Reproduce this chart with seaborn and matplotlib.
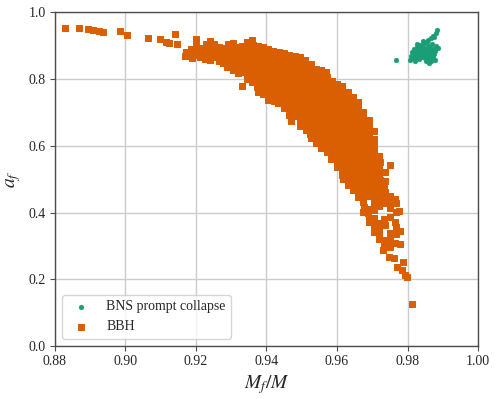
import matplotlib
matplotlib.use("Agg")
import matplotlib.pyplot as plt
import pandas as pd
import seaborn as sns

# --- data (M_f/M, a_f) ---
bns_points = [
    (0.9767, 0.857),
    (0.9884, 0.946), (0.9880, 0.938), (0.9872, 0.930), (0.9866, 0.924), (0.9858, 0.918), (0.9876, 0.926),
    (0.9880, 0.900), (0.9886, 0.892), (0.9878, 0.884),
    (0.9810, 0.870), (0.9812, 0.880), (0.9815, 0.862), (0.9818, 0.890), (0.9820, 0.875), (0.9823, 0.866),
    (0.9826, 0.897), (0.9828, 0.884), (0.9830, 0.872), (0.9832, 0.860), (0.9835, 0.890), (0.9836, 0.903),
    (0.9838, 0.878), (0.9840, 0.867), (0.9842, 0.885), (0.9845, 0.895), (0.9846, 0.873), (0.9848, 0.908),
    (0.9850, 0.862), (0.9851, 0.882), (0.9853, 0.890), (0.9855, 0.870), (0.9857, 0.900), (0.9858, 0.878),
    (0.9860, 0.886), (0.9862, 0.862), (0.9863, 0.894), (0.9865, 0.874), (0.9866, 0.853), (0.9868, 0.882),
    (0.9870, 0.905), (0.9871, 0.866), (0.9873, 0.890), (0.9875, 0.876), (0.9856, 0.912), (0.9843, 0.913),
    (0.9828, 0.905), (0.9808, 0.858), (0.9822, 0.854), (0.9860, 0.848), (0.9877, 0.858), (0.9853, 0.855),
]

# sparse high-spin tail
bbh_tail = [
    (0.8828, 0.952), (0.8868, 0.952), (0.8893, 0.949), (0.8909, 0.947), (0.8925, 0.945), (0.8938, 0.942),
    (0.8985, 0.945), (0.9005, 0.933), (0.9063, 0.922), (0.9097, 0.921), (0.9114, 0.911), (0.9124, 0.909),
    (0.9140, 0.934), (0.9147, 0.905),
]

bbh_upper = [
    (0.9172, 0.882), (0.9170, 0.869),
    (0.9187, 0.891), (0.9186, 0.877), (0.9188, 0.864),
    (0.9200, 0.920), (0.9201, 0.900), (0.9199, 0.886), (0.9202, 0.872),
    (0.9214, 0.893), (0.9215, 0.879), (0.9213, 0.866),
    (0.9228, 0.905), (0.9227, 0.890), (0.9229, 0.876), (0.9227, 0.861),
    (0.9240, 0.915), (0.9241, 0.902), (0.9239, 0.887), (0.9241, 0.873), (0.9240, 0.858),
    (0.9252, 0.906), (0.9251, 0.893), (0.9253, 0.880), (0.9251, 0.866),
    (0.9265, 0.897), (0.9266, 0.884), (0.9264, 0.870), (0.9265, 0.855),
    (0.9278, 0.892), (0.9277, 0.878), (0.9279, 0.862), (0.9277, 0.848),
    (0.9290, 0.905), (0.9291, 0.890), (0.9289, 0.876), (0.9290, 0.862), (0.9291, 0.848), (0.9289, 0.836),
    (0.9304, 0.908), (0.9303, 0.894), (0.9305, 0.880), (0.9304, 0.866), (0.9305, 0.852), (0.9303, 0.838),
    (0.9304, 0.826),
    (0.9318, 0.897), (0.9317, 0.884), (0.9319, 0.870), (0.9318, 0.856), (0.9319, 0.842), (0.9317, 0.829),
    (0.9318, 0.817),
    (0.9331, 0.900), (0.9332, 0.888), (0.9330, 0.874), (0.9331, 0.860), (0.9330, 0.846), (0.9332, 0.832),
    (0.9331, 0.820), (0.9330, 0.778),
    (0.9345, 0.910), (0.9344, 0.896), (0.9346, 0.882), (0.9345, 0.868), (0.9346, 0.854), (0.9344, 0.840),
    (0.9345, 0.826), (0.9344, 0.812), (0.9346, 0.800),
    (0.9360, 0.918), (0.9361, 0.903), (0.9359, 0.889), (0.9360, 0.875), (0.9359, 0.861), (0.9361, 0.847),
    (0.9360, 0.833), (0.9361, 0.819), (0.9359, 0.805), (0.9360, 0.791),
    (0.9375, 0.900), (0.9374, 0.886), (0.9376, 0.872), (0.9375, 0.858), (0.9376, 0.844), (0.9374, 0.830),
    (0.9375, 0.816), (0.9374, 0.802), (0.9376, 0.788), (0.9374, 0.775), (0.9375, 0.761),
]

bbh_middle = [
    (0.9390, 0.895), (0.9391, 0.881), (0.9389, 0.867), (0.9390, 0.853), (0.9389, 0.839), (0.9391, 0.825),
    (0.9390, 0.811), (0.9391, 0.797), (0.9389, 0.783), (0.9390, 0.769), (0.9390, 0.755),
    (0.9405, 0.889), (0.9404, 0.875), (0.9406, 0.861), (0.9405, 0.847), (0.9406, 0.833), (0.9404, 0.819),
    (0.9405, 0.805), (0.9404, 0.791), (0.9406, 0.777), (0.9404, 0.763), (0.9405, 0.750), (0.9404, 0.738),
    (0.9420, 0.885), (0.9421, 0.871), (0.9419, 0.857), (0.9420, 0.843), (0.9419, 0.829), (0.9421, 0.815),
    (0.9420, 0.801), (0.9421, 0.787), (0.9419, 0.773), (0.9420, 0.759), (0.9419, 0.745), (0.9421, 0.733),
    (0.9435, 0.880), (0.9434, 0.866), (0.9436, 0.852), (0.9435, 0.838), (0.9436, 0.824), (0.9434, 0.810),
    (0.9435, 0.796), (0.9434, 0.782), (0.9436, 0.768), (0.9434, 0.754), (0.9435, 0.740), (0.9434, 0.727),
    (0.9450, 0.878), (0.9451, 0.864), (0.9449, 0.850), (0.9450, 0.836), (0.9449, 0.822), (0.9451, 0.808),
    (0.9450, 0.794), (0.9451, 0.780), (0.9449, 0.766), (0.9450, 0.752), (0.9449, 0.738), (0.9451, 0.724),
    (0.9450, 0.712),
    (0.9465, 0.873), (0.9464, 0.859), (0.9466, 0.845), (0.9465, 0.831), (0.9466, 0.817), (0.9464, 0.803),
    (0.9465, 0.789), (0.9464, 0.775), (0.9466, 0.761), (0.9464, 0.747), (0.9465, 0.733), (0.9464, 0.719),
    (0.9466, 0.705), (0.9464, 0.692), (0.9470, 0.673),
    (0.9480, 0.870), (0.9481, 0.856), (0.9479, 0.842), (0.9480, 0.828), (0.9479, 0.814), (0.9481, 0.800),
    (0.9480, 0.786), (0.9481, 0.772), (0.9479, 0.758), (0.9480, 0.744), (0.9479, 0.730), (0.9481, 0.716),
    (0.9480, 0.702), (0.9481, 0.688),
    (0.9495, 0.866), (0.9494, 0.852), (0.9496, 0.838), (0.9495, 0.824), (0.9496, 0.810), (0.9494, 0.796),
    (0.9495, 0.782), (0.9494, 0.768), (0.9496, 0.754), (0.9494, 0.740), (0.9495, 0.726), (0.9494, 0.712),
    (0.9496, 0.698), (0.9494, 0.684), (0.9495, 0.670), (0.9494, 0.658),
    (0.9510, 0.858), (0.9511, 0.844), (0.9509, 0.830), (0.9510, 0.816), (0.9509, 0.802), (0.9511, 0.788),
    (0.9510, 0.774), (0.9511, 0.760), (0.9509, 0.746), (0.9510, 0.732), (0.9509, 0.718), (0.9511, 0.704),
    (0.9510, 0.690), (0.9511, 0.676), (0.9509, 0.662), (0.9511, 0.648),
    (0.9525, 0.845), (0.9524, 0.831), (0.9526, 0.817), (0.9525, 0.803), (0.9526, 0.789), (0.9524, 0.775),
    (0.9525, 0.761), (0.9524, 0.747), (0.9526, 0.733), (0.9524, 0.719), (0.9525, 0.705), (0.9524, 0.691),
    (0.9526, 0.677), (0.9524, 0.663), (0.9525, 0.649), (0.9524, 0.635), (0.9526, 0.623),
    (0.9540, 0.830), (0.9541, 0.816), (0.9539, 0.802), (0.9540, 0.788), (0.9539, 0.774), (0.9541, 0.760),
    (0.9540, 0.746), (0.9541, 0.732), (0.9539, 0.718), (0.9540, 0.704), (0.9539, 0.690), (0.9541, 0.676),
    (0.9540, 0.662), (0.9541, 0.648), (0.9539, 0.634), (0.9541, 0.620), (0.9540, 0.608),
    (0.9555, 0.826), (0.9554, 0.812), (0.9556, 0.798), (0.9555, 0.784), (0.9556, 0.770), (0.9554, 0.756),
    (0.9555, 0.742), (0.9554, 0.728), (0.9556, 0.714), (0.9554, 0.700), (0.9555, 0.686), (0.9554, 0.672),
    (0.9556, 0.658), (0.9554, 0.644), (0.9555, 0.630), (0.9554, 0.616), (0.9556, 0.602), (0.9554, 0.592),
    (0.9570, 0.820), (0.9571, 0.806), (0.9569, 0.792), (0.9570, 0.778), (0.9569, 0.764), (0.9571, 0.750),
    (0.9570, 0.736), (0.9571, 0.722), (0.9569, 0.708), (0.9570, 0.694), (0.9569, 0.680), (0.9571, 0.666),
    (0.9570, 0.652), (0.9571, 0.638), (0.9569, 0.624), (0.9571, 0.610), (0.9570, 0.596), (0.9571, 0.582),
    (0.9585, 0.795), (0.9584, 0.781), (0.9586, 0.767), (0.9585, 0.753), (0.9586, 0.739), (0.9584, 0.725),
    (0.9585, 0.711), (0.9584, 0.697), (0.9586, 0.683), (0.9584, 0.669), (0.9585, 0.655), (0.9584, 0.641),
    (0.9586, 0.627), (0.9584, 0.613), (0.9585, 0.599), (0.9584, 0.585), (0.9586, 0.571), (0.9584, 0.560),
]

bbh_lower = [
    (0.9600, 0.786), (0.9601, 0.772), (0.9599, 0.758), (0.9600, 0.744), (0.9599, 0.730), (0.9601, 0.716),
    (0.9600, 0.702), (0.9601, 0.688), (0.9599, 0.674), (0.9600, 0.660), (0.9599, 0.646), (0.9601, 0.632),
    (0.9600, 0.618), (0.9601, 0.604), (0.9599, 0.590), (0.9601, 0.576), (0.9600, 0.562), (0.9601, 0.548),
    (0.9599, 0.535),
    (0.9615, 0.778), (0.9614, 0.764), (0.9616, 0.750), (0.9615, 0.736), (0.9616, 0.722), (0.9614, 0.708),
    (0.9615, 0.694), (0.9614, 0.680), (0.9616, 0.666), (0.9614, 0.652), (0.9615, 0.638), (0.9614, 0.624),
    (0.9616, 0.610), (0.9614, 0.596), (0.9615, 0.582), (0.9614, 0.568), (0.9616, 0.554), (0.9614, 0.540),
    (0.9615, 0.526), (0.9614, 0.512), (0.9616, 0.500),
    (0.9630, 0.762), (0.9631, 0.748), (0.9629, 0.734), (0.9630, 0.720), (0.9629, 0.706), (0.9631, 0.692),
    (0.9630, 0.678), (0.9631, 0.664), (0.9629, 0.650), (0.9630, 0.636), (0.9629, 0.622), (0.9631, 0.608),
    (0.9630, 0.594), (0.9631, 0.580), (0.9629, 0.566), (0.9631, 0.552), (0.9630, 0.538), (0.9631, 0.524),
    (0.9629, 0.510), (0.9631, 0.496), (0.9630, 0.483),
    (0.9645, 0.745), (0.9644, 0.731), (0.9646, 0.717), (0.9645, 0.703), (0.9646, 0.689), (0.9644, 0.675),
    (0.9645, 0.661), (0.9644, 0.647), (0.9646, 0.633), (0.9644, 0.619), (0.9645, 0.605), (0.9644, 0.591),
    (0.9646, 0.577), (0.9644, 0.563), (0.9645, 0.549), (0.9644, 0.535), (0.9646, 0.521), (0.9644, 0.507),
    (0.9645, 0.493), (0.9644, 0.479), (0.9646, 0.466),
    (0.9660, 0.730), (0.9661, 0.716), (0.9659, 0.702), (0.9660, 0.688), (0.9659, 0.674), (0.9661, 0.660),
    (0.9660, 0.646), (0.9661, 0.632), (0.9659, 0.618), (0.9660, 0.604), (0.9659, 0.590), (0.9661, 0.576),
    (0.9660, 0.562), (0.9661, 0.548), (0.9659, 0.534), (0.9661, 0.520), (0.9660, 0.506), (0.9661, 0.492),
    (0.9659, 0.478), (0.9661, 0.462), (0.9660, 0.445),
    (0.9675, 0.700), (0.9674, 0.686), (0.9676, 0.672), (0.9675, 0.658), (0.9676, 0.644), (0.9674, 0.630),
    (0.9675, 0.616), (0.9674, 0.602), (0.9676, 0.588), (0.9674, 0.574), (0.9675, 0.560), (0.9674, 0.546),
    (0.9676, 0.532), (0.9674, 0.518), (0.9675, 0.504), (0.9674, 0.490), (0.9676, 0.476), (0.9674, 0.462),
    (0.9675, 0.448), (0.9674, 0.432), (0.9676, 0.418), (0.9674, 0.403),
    (0.9690, 0.678), (0.9691, 0.660), (0.9689, 0.646), (0.9690, 0.632), (0.9689, 0.618), (0.9691, 0.604),
    (0.9690, 0.590), (0.9691, 0.576), (0.9689, 0.562), (0.9690, 0.548), (0.9689, 0.534), (0.9691, 0.520),
    (0.9690, 0.506), (0.9691, 0.492), (0.9689, 0.478), (0.9691, 0.464), (0.9690, 0.450), (0.9691, 0.412),
    (0.9689, 0.398), (0.9691, 0.384), (0.9690, 0.372),
    (0.9705, 0.643), (0.9706, 0.620), (0.9704, 0.604), (0.9705, 0.590), (0.9704, 0.576), (0.9706, 0.562),
    (0.9705, 0.548), (0.9706, 0.534), (0.9704, 0.520), (0.9705, 0.506), (0.9704, 0.492), (0.9706, 0.478),
    (0.9705, 0.464), (0.9706, 0.450), (0.9704, 0.436), (0.9706, 0.422), (0.9705, 0.408), (0.9704, 0.384),
    (0.9706, 0.368), (0.9704, 0.355), (0.9705, 0.342),
]

# sparse low-spin end of the band
bbh_end = [
    (0.9720, 0.568), (0.9721, 0.552), (0.9719, 0.538), (0.9720, 0.524), (0.9719, 0.510), (0.9721, 0.496),
    (0.9720, 0.480), (0.9721, 0.466), (0.9719, 0.450), (0.9721, 0.436), (0.9719, 0.420), (0.9717, 0.370),
    (0.9720, 0.355), (0.9718, 0.338), (0.9719, 0.322),
    (0.9735, 0.520), (0.9736, 0.493), (0.9734, 0.478), (0.9735, 0.462), (0.9734, 0.446), (0.9736, 0.428),
    (0.9734, 0.380), (0.9735, 0.362), (0.9733, 0.318), (0.9734, 0.302), (0.9731, 0.288),
    (0.9750, 0.543), (0.9751, 0.448), (0.9749, 0.430), (0.9751, 0.414), (0.9750, 0.388), (0.9751, 0.340),
    (0.9749, 0.318), (0.9750, 0.296), (0.9747, 0.266),
    (0.9765, 0.440), (0.9768, 0.428), (0.9766, 0.402), (0.9764, 0.372), (0.9766, 0.356), (0.9767, 0.336),
    (0.9765, 0.310), (0.9763, 0.263), (0.9771, 0.238),
    (0.9777, 0.404), (0.9779, 0.346), (0.9780, 0.306), (0.9784, 0.228), (0.9788, 0.253), (0.9793, 0.213),
    (0.9798, 0.206), (0.9812, 0.126),
]

bns = pd.DataFrame(bns_points, columns=['Mf', 'af'])
bbh = pd.DataFrame(bbh_tail + bbh_upper + bbh_middle + bbh_lower + bbh_end, columns=['Mf', 'af'])

sns.set_theme(style="whitegrid")
plt.rcParams['font.family'] = ['Liberation Serif', 'DejaVu Serif']
plt.rcParams['mathtext.fontset'] = 'stix'

fig, ax = plt.subplots(figsize=(4.98, 3.99), dpi=100)
fig.subplots_adjust(left=0.110, right=0.960, bottom=0.133, top=0.969)

sns.scatterplot(data=bns, x='Mf', y='af', color='#1b9e77', marker='o', s=12,
                linewidth=0.3, edgecolor='#1b9e77', label='BNS prompt collapse', ax=ax)
sns.scatterplot(data=bbh, x='Mf', y='af', color='#d95f02', marker='s', s=14,
                linewidth=0.7, edgecolor='#d95f02', label='BBH', ax=ax)

ax.set_xlim(0.88, 1.0)
ax.set_ylim(0.0, 1.0)
ax.set_xticks([0.88, 0.90, 0.92, 0.94, 0.96, 0.98, 1.00])
ax.set_xticklabels(['0.88', '0.90', '0.92', '0.94', '0.96', '0.98', '1.00'])
ax.set_yticks([0.0, 0.2, 0.4, 0.6, 0.8, 1.0])
ax.set_yticklabels(['0.0', '0.2', '0.4', '0.6', '0.8', '1.0'])
ax.set_xlabel(r'$M_f/M$', fontsize=14)
ax.set_ylabel(r'$a_f$', fontsize=14)

ax.grid(True, color='0.8', linewidth=1.0)
for side in ax.spines:
    ax.spines[side].set_color('0.3')
    ax.spines[side].set_linewidth(1.0)
ax.tick_params(axis='both', which='both', direction='out', length=3.5, width=0.8,
               color='0.3', labelsize=10, left=True, bottom=True, pad=3)

ax.legend(loc='lower left', frameon=True, framealpha=0.8, edgecolor='0.8',
          fancybox=True, fontsize=10)

fig.savefig('out.png', dpi=100)
